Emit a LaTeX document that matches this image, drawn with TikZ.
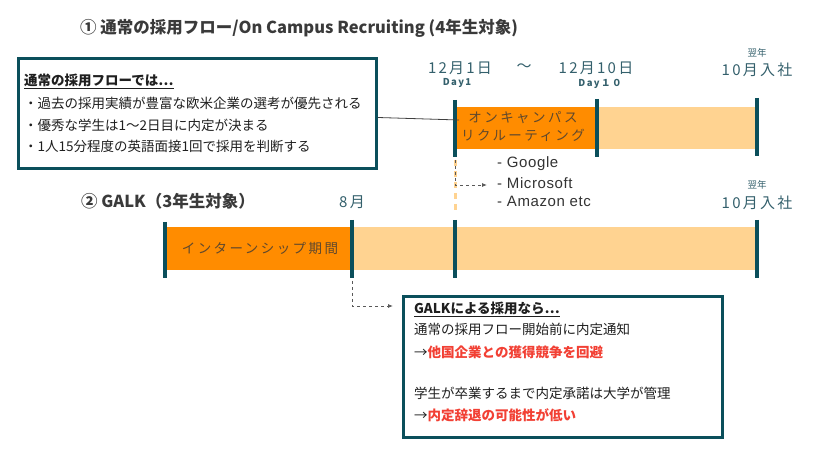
\documentclass[tikz,border=0pt]{standalone}
\usepackage{fontspec}
\setmainfont{Noto Sans CJK JP}
\newfontfamily\datefont[LetterSpace=15]{Noto Sans CJK JP}
\newfontfamily\barfont[LetterSpace=18]{Noto Sans CJK JP}
\newfontfamily\latfont[LetterSpace=4]{Liberation Sans}
\usetikzlibrary{arrows.meta}
\definecolor{galkteal}{RGB}{11,79,91}
\definecolor{darkorg}{RGB}{255,140,0}
\definecolor{lightorg}{RGB}{255,211,145}
\definecolor{datecol}{RGB}{52,96,108}
\definecolor{redtxt}{RGB}{242,64,52}
\definecolor{titlegray}{RGB}{58,58,58}
\definecolor{bartxt}{RGB}{95,72,45}
\tikzset{
  tickbar/.style={draw=galkteal, line width=4pt},
  infobox/.style={draw=galkteal, line width=3pt, fill=white, anchor=north west, inner sep=0pt},
  boxtxt/.style={anchor=west, inner sep=0pt, font=\fontsize{13.5}{15}\selectfont, text=black!88},
  titletxt/.style={anchor=west, inner sep=0pt, font=\fontsize{16.5}{19}\selectfont\bfseries, text=titlegray},
  datetxt/.style={inner sep=0pt, font=\fontsize{15}{17}\datefont, text=datecol},
  smalldate/.style={inner sep=0pt, font=\fontsize{9.5}{11}\datefont\bfseries, text=datecol},
  bartext/.style={inner sep=0pt, align=center, font=\fontsize{13.5}{18}\barfont, text=bartxt},
  comptxt/.style={anchor=west, inner sep=0pt, font=\fontsize{15}{17}\latfont, text=black!80},
  dashconn/.style={draw=black!65, dashed, line width=0.8pt, -{Latex[length=5pt,width=4pt]}},
}
\begin{document}
\begin{tikzpicture}[x=1pt,y=-1pt]
\useasboundingbox (0,0) rectangle (823,457);

% titles
\node[titletxt] (t1) at (80,28) {① 通常の採用フロー/On Campus Recruiting (4年生対象)};
\node[titletxt] (t2) at (81,201) {② GALK（3年生対象）};

% timeline 1
\fill[darkorg] (455,107) rectangle (597,149);
\fill[lightorg] (597,107) rectangle (757,149);
\draw[tickbar] (455,100) -- (455,157);
\draw[tickbar] (597,99) -- (597,157);
\draw[tickbar] (757,98) -- (757,156);
\node[bartext] (oc) at (523,127) {オンキャンパス\\リクルーティング};

\node[datetxt] (d1) at (460,68) {12月1日};
\node[datetxt] (tilde) at (524,68) {〜};
\node[datetxt] (d10) at (596,68) {12月10日};
\node[smalldate] (day1) at (457,83) {Day1};
\node[smalldate] (day10) at (600,84) {Day１０};
\node[smalldate, font=\fontsize{9.5}{11}\selectfont] (yn1) at (757,53) {翌年};
\node[datetxt] (oct1) at (757,70) {10月入社};

% companies
\node[comptxt] (g) at (497,164) {- Google};
\node[comptxt] (ms) at (497,183) {- Microsoft};
\node[comptxt] (am) at (497,201) {- Amazon etc};

\draw[lightorg, line width=3pt, dash pattern=on 6pt off 5pt] (455,160) -- (455,212);
\coordinate (c1) at (455,160);
\coordinate (c1end) at (487,185);
\draw[dashconn] (c1) |- (c1end);

% timeline 2
\fill[darkorg] (165,227) rectangle (352,270);
\fill[lightorg] (352,227) rectangle (757,270);
\draw[tickbar] (165,222) -- (165,278);
\draw[tickbar] (352,220) -- (352,278);
\draw[tickbar] (455,220) -- (455,278);
\draw[tickbar] (757,220) -- (757,278);
\node[bartext] (intern) at (260,248) {インターンシップ期間};
\node[datetxt] (aug) at (352,202) {8月};
\node[smalldate, font=\fontsize{9.5}{11}\selectfont] (yn2) at (757,185) {翌年};
\node[datetxt] (oct2) at (757,203) {10月入社};

% left box
\node[infobox, minimum width=358pt, minimum height=110pt] (lbox) at (17,57) {};
\node[boxtxt, font=\fontsize{13.5}{15}\selectfont\bfseries] (lh) at (24,81) {\underline{通常の採用フローでは…}};
\node[boxtxt] (l1) at (24,103) {・過去の採用実績が豊富な欧米企業の選考が優先される};
\node[boxtxt] (l2) at (24,125) {・優秀な学生は1〜2日目に内定が決まる};
\node[boxtxt] (l3) at (24,146) {・1人15分程度の英語面接1回で採用を判断する};
\coordinate (ocin) at (459,120);
\draw[black!75, line width=0.8pt] ([yshift=-4pt]lbox.east) -- (ocin);

% right box
\node[infobox, minimum width=319pt, minimum height=141pt] (rbox) at (402,295) {};
\node[boxtxt, font=\fontsize{13.5}{15}\selectfont\bfseries] (rh) at (414,309) {\underline{GALKによる採用なら…}};
\node[boxtxt] (r1) at (414,329) {通常の採用フロー開始前に内定通知};
\node[boxtxt] (r2) at (414,352) {→\textcolor{redtxt}{\bfseries 他国企業との獲得競争を回避}};
\node[boxtxt] (r3) at (414,393) {学生が卒業するまで内定承諾は大学が管理};
\node[boxtxt] (r4) at (414,415) {→\textcolor{redtxt}{\bfseries 内定辞退の可能性が低い}};

\coordinate (c8) at (352,281);
\coordinate (c8end) at (393,306);
\draw[dashconn] (c8) |- (c8end);
\end{tikzpicture}
\end{document}
